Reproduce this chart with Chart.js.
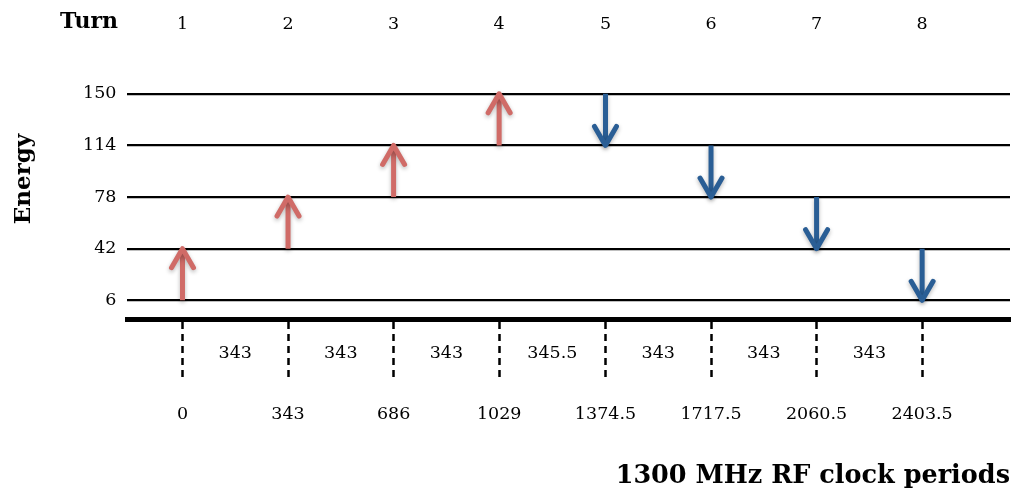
<!DOCTYPE html>
<html>
<head>
<meta charset="utf-8">
<script src="https://cdn.jsdelivr.net/npm/chart.js@4/dist/chart.umd.min.js"></script>
<style>
  html, body { margin: 0; padding: 0; background: #ffffff; }
  #wrap { width: 1021px; height: 498px; position: relative; }
</style>
</head>
<body>
<div id="wrap"><canvas id="c" width="1021" height="498"></canvas></div>
<script>
// ---- data ----
const turns = ['1', '2', '3', '4', '5', '6', '7', '8'];
const clockPeriods = [0, 343, 686, 1029, 1374.5, 1717.5, 2060.5, 2403.5];
const intervals = [343, 343, 343, 345.5, 343, 343, 343];
const energyLevels = [6, 42, 78, 114, 150];
const arrowFrom = [6, 42, 78, 114, 150, 114, 78, 42];
const arrowTo = [42, 78, 114, 150, 114, 78, 42, 6];

const FONT = "'DejaVu Serif', serif";
const RED = '#D06B67';
const BLUE = '#2A5E95';

const datasets = clockPeriods.map((cp, i) => ({
  label: 'Turn ' + turns[i],
  data: [{ x: cp, y: arrowFrom[i] }, { x: cp, y: arrowTo[i] }],
  borderColor: arrowTo[i] > arrowFrom[i] ? RED : BLUE,
  borderWidth: 5,
  borderCapStyle: 'butt',
  pointRadius: 0,
  showLine: true,
  fill: false
}));

const arrowPlugin = {
  id: 'arrowPlugin',
  beforeDatasetsDraw(chart) {
    const ctx = chart.ctx;
    ctx.save();
    ctx.shadowColor = 'rgba(0,0,0,0.28)';
    ctx.shadowBlur = 4;
    ctx.shadowOffsetY = 2;
  },
  afterDatasetsDraw(chart) {
    const ctx = chart.ctx;
    chart.data.datasets.forEach((ds, i) => {
      const meta = chart.getDatasetMeta(i);
      const p0 = meta.data[0], p1 = meta.data[1];
      const d = p1.y > p0.y ? 1 : -1;
      ctx.beginPath();
      ctx.strokeStyle = ds.borderColor;
      ctx.lineWidth = 5;
      ctx.lineCap = 'round';
      ctx.lineJoin = 'round';
      ctx.moveTo(p1.x - 11, p1.y - d * 19);
      ctx.lineTo(p1.x, p1.y);
      ctx.lineTo(p1.x + 11, p1.y - d * 19);
      ctx.stroke();
    });
    ctx.restore();
  },
  afterDraw(chart) {
    const ctx = chart.ctx;
    const xs = chart.scales.x;
    const area = chart.chartArea;
    ctx.save();
    ctx.fillStyle = '#000';
    ctx.font = '17.5px ' + FONT;
    ctx.textAlign = 'center';
    ctx.textBaseline = 'middle';
    intervals.forEach((v, i) => {
      const xm = (xs.getPixelForValue(clockPeriods[i]) + xs.getPixelForValue(clockPeriods[i + 1])) / 2;
      ctx.fillText(String(v), xm, area.bottom + 34);
    });
    // "Turn" label
    ctx.font = 'bold 22px ' + FONT;
    ctx.textAlign = 'right';
    ctx.fillText('Turn', 118, 22);
    // "Energy" axis label
    ctx.font = 'bold 23px ' + FONT;
    ctx.translate(24, 179);
    ctx.rotate(-Math.PI / 2);
    ctx.textAlign = 'center';
    ctx.fillText('Energy', 0, 0);
    ctx.restore();
  }
};

new Chart(document.getElementById('c'), {
  type: 'scatter',
  data: { datasets },
  options: {
    responsive: false,
    animation: false,
    layout: { padding: { left: 72, right: 11, top: 0, bottom: 6 } },
    plugins: { legend: { display: false }, tooltip: { enabled: false } },
    scales: {
      x: {
        type: 'linear',
        position: 'bottom',
        min: -179,
        max: 2689,
        afterBuildTicks: s => { s.ticks = clockPeriods.map(v => ({ value: v })); },
        ticks: {
          color: '#000',
          font: { family: FONT, size: 17.5 },
          padding: 25,
          maxRotation: 0,
          autoSkip: false,
          callback: (v, i) => String(clockPeriods[i])
        },
        grid: {
          drawOnChartArea: false,
          drawTicks: true,
          tickLength: 60,
          tickColor: '#000',
          tickWidth: 2.5,
          tickBorderDash: [7, 5]
        },
        border: { display: true, color: '#000', width: 5 },
        title: {
          display: true,
          text: '1300 MHz RF clock periods',
          align: 'end',
          color: '#000',
          font: { family: FONT, size: 25.5, weight: 'bold' },
          padding: { top: 11, bottom: 0 }
        }
      },
      xTop: {
        type: 'linear',
        position: 'top',
        min: -179,
        max: 2689,
        afterBuildTicks: s => { s.ticks = clockPeriods.map(v => ({ value: v })); },
        ticks: {
          color: '#000',
          font: { family: FONT, size: 17.5 },
          padding: 14,
          maxRotation: 0,
          autoSkip: false,
          callback: (v, i) => turns[i]
        },
        grid: { display: false, drawTicks: false },
        border: { display: false }
      },
      y: {
        type: 'linear',
        min: -7.3,
        max: 181.2,
        afterBuildTicks: s => { s.ticks = energyLevels.map(v => ({ value: v })); },
        ticks: {
          color: '#000',
          font: { family: FONT, size: 17.5 },
          padding: 11,
          callback: v => String(v)
        },
        grid: { color: '#000', lineWidth: 2.2, drawTicks: false },
        border: { display: false }
      }
    }
  },
  plugins: [arrowPlugin]
});
</script>
</body>
</html>
